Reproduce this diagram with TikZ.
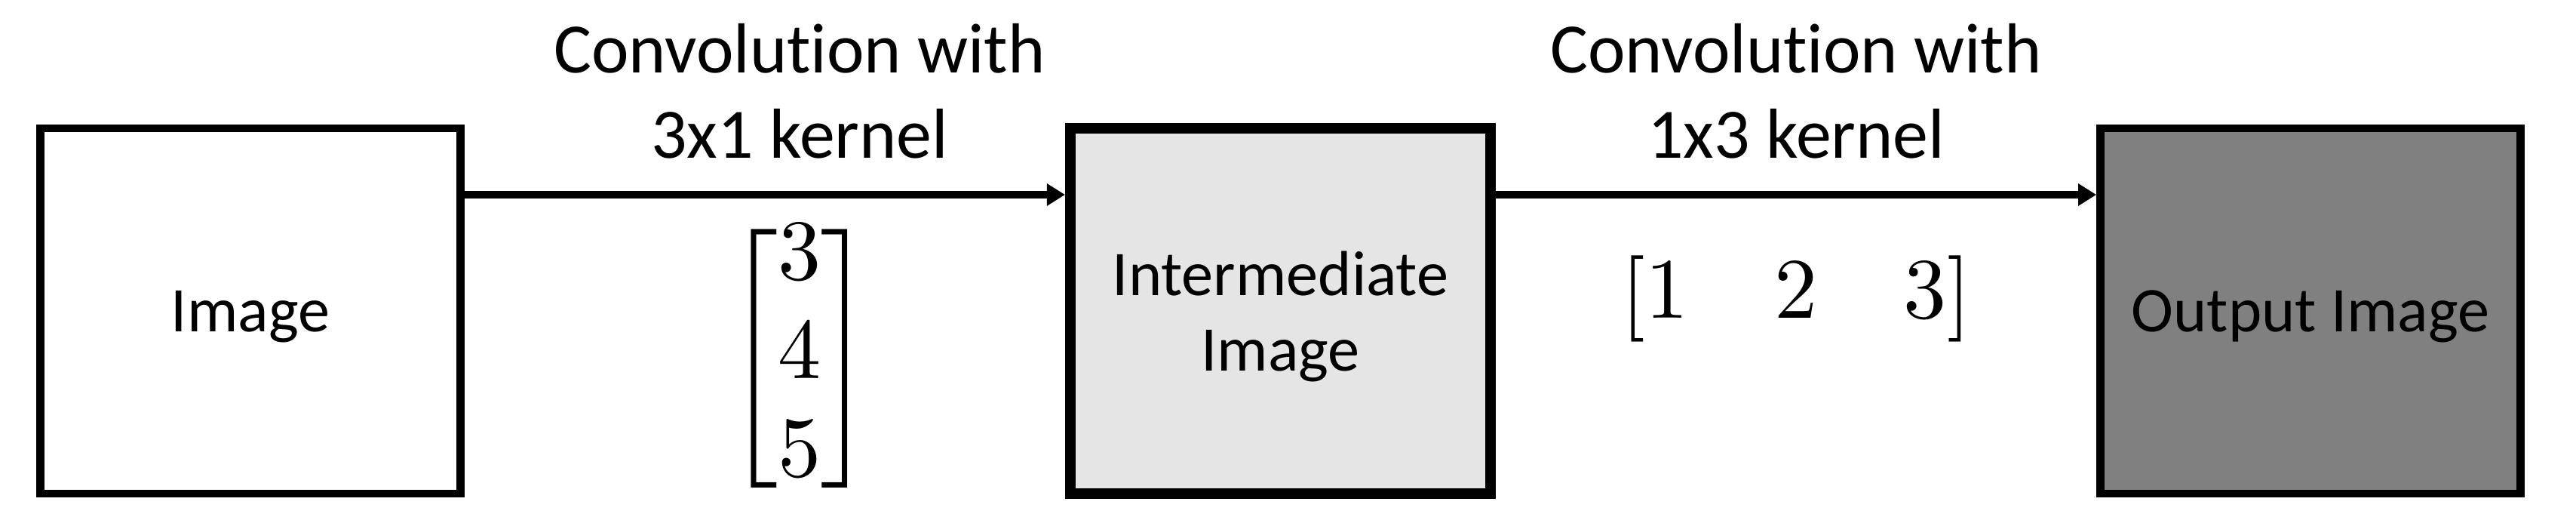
\documentclass[tikz,border=0pt]{standalone}
\usepackage{amsmath}
\usepackage{graphicx}
\usepackage[no-math]{fontspec}
\usepackage{xcolor}
\usepackage{tikz}
\usetikzlibrary{arrows.meta, positioning}
\newfontfamily\calibri[Ligatures=NoCommon]{Carlito}
\newcommand{\boxfont}{\calibri\fontsize{24pt}{28.45pt}\selectfont}
\newcommand{\convfont}{\calibri\fontsize{26.7pt}{32.15pt}\selectfont}
\newcommand{\kernelmat}[1]{\scalebox{3.25}{\delimiterfactor=800\renewcommand{\arraystretch}{0.95}$\begin{bmatrix}#1\end{bmatrix}$}}
\definecolor{interfill}{gray}{0.9}
\definecolor{outfill}{gray}{0.5}
\tikzstyle{imgbox} = [rectangle, minimum width=5.57cm, minimum height=4.84cm, inner sep=0pt, text depth=0pt, align=center, draw=black, line width=3.05pt, font=\boxfont]
\tikzstyle{convarrow} = [line width=2.7pt, -{Triangle[length=2.4mm, width=2.8mm]}]
\tikzstyle{convlabel} = [font=\convfont, align=center, inner sep=0pt]
\tikzstyle{kernelnode} = [inner sep=0pt]

\begin{document}
\begin{tikzpicture}[node distance=13.655cm]
    \useasboundingbox (0,0) rectangle (34.15,6.85);
    % Nodes
    \node[imgbox] (image) at (3.32,2.73) {Image};
    \node[imgbox, right of=image, line width=4pt, fill=interfill] (inter) {Intermediate\\Image};
    \node[imgbox, right of=inter, fill=outfill] (output) {Output Image};

    % Arrows
    \draw[convarrow] ([yshift=1.54cm]image.east) --
        node[convlabel, above=0.43cm, pos=0.558] {Convolution with\\3x1 kernel}
        node[kernelnode, below=0.17cm, pos=0.558] {\kernelmat{3\\4\\5}}
        ([yshift=1.54cm]inter.west);
    \draw[convarrow] ([yshift=1.54cm]inter.east) --
        node[convlabel, above=0.43cm, pos=0.5] {Convolution with\\1x3 kernel}
        node[kernelnode, below=0.68cm, pos=0.5] {\kernelmat{1 & 2 & 3}}
        ([yshift=1.54cm]output.west);
\end{tikzpicture}
\end{document}
